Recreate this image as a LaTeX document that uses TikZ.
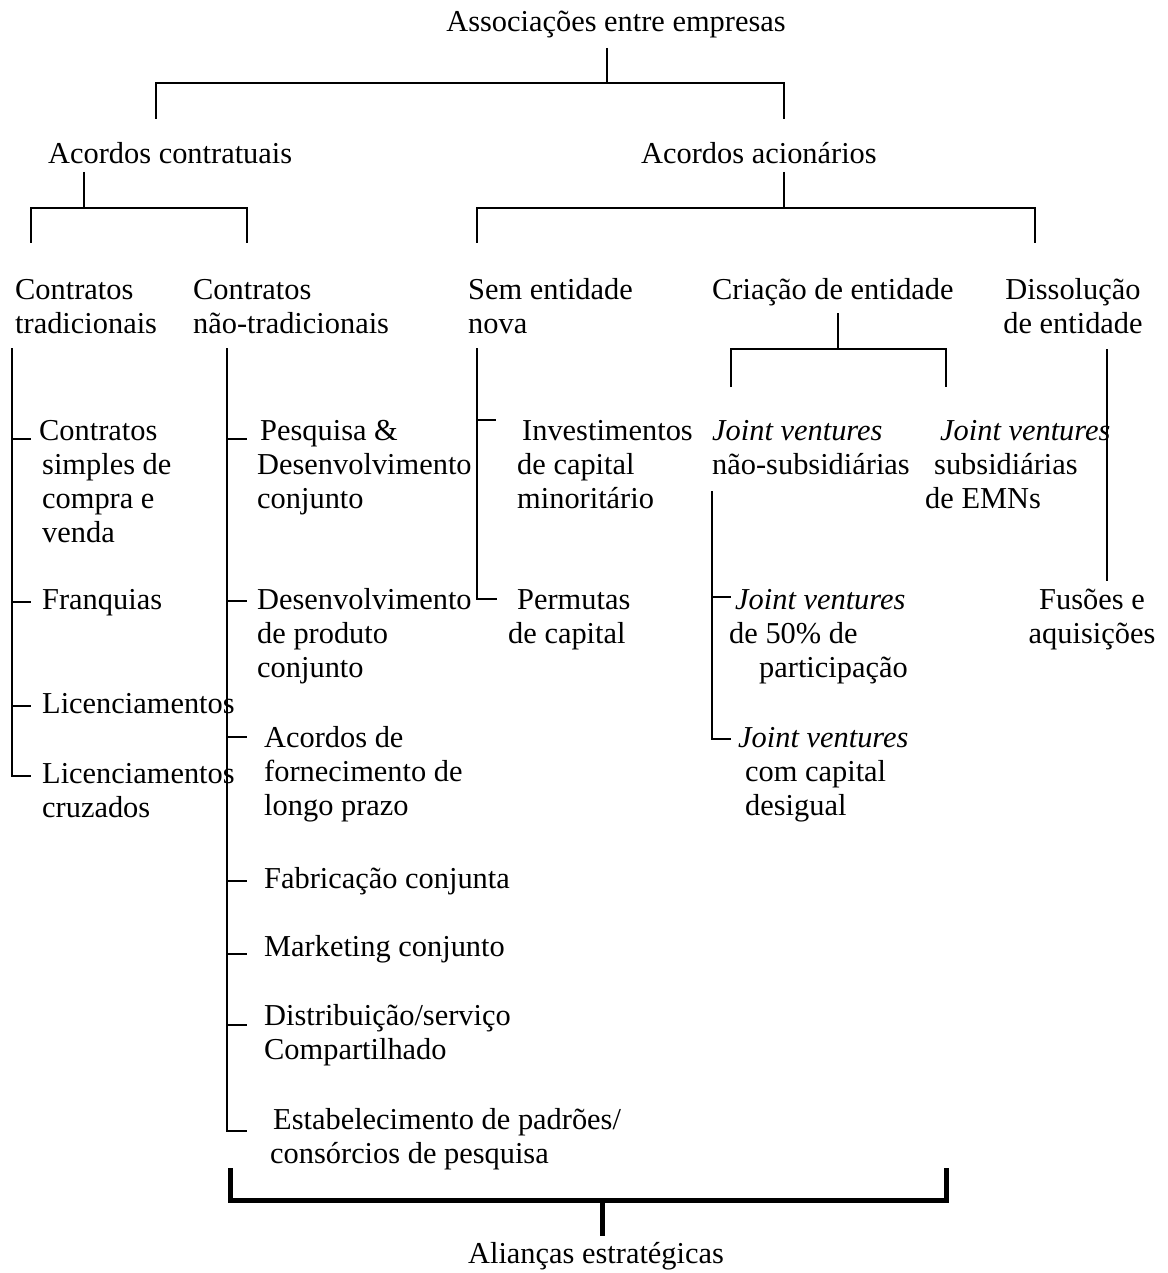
\documentclass[tikz,border=0pt]{standalone}
\usepackage{fontspec}
\setmainfont{Liberation Serif}
% stacked lines with a fixed 34pt line pitch; baseline = first line
\newcommand{\stackl}[1]{\begin{tabular}[t]{@{}l@{}}#1\end{tabular}}
\newcommand{\stackc}[1]{\begin{tabular}[t]{@{}c@{}}#1\end{tabular}}
\begin{document}
\begin{tikzpicture}[x=1pt,y=-1pt,
  every node/.style={inner sep=0pt,font=\fontsize{30.4}{34}\selectfont},
  lbl/.style={anchor=base west},
  lblc/.style={anchor=base},
  link/.style={line width=1.6pt,line join=miter},
  bracket/.style={line width=5pt,line join=miter}]
\fill[white] (0,0) rectangle (1167,1273);
\useasboundingbox (0,0) rectangle (1167,1273);

% ---------- labels ----------
\node[lblc] (root) at (616,32) {Associações entre empresas};
\node[lbl] (contr) at (48,164) {Acordos contratuais};
\node[lbl] (acion) at (641,164) {Acordos acionários};

\node[lbl] (trad) at (15,299) {\stackl{Contratos\\tradicionais}};
\node[lbl] (ntrad) at (193,299) {\stackl{Contratos\\não-tradicionais}};
\node[lbl] (sem) at (468,299) {\stackl{Sem entidade\\nova}};
\node[lbl] (cria) at (712,299) {Criação de entidade};
\node[lblc] (diss) at (1073,299) {\stackc{Dissolução\\de entidade}};

% column: contratos tradicionais
\node[lbl] (simples) at (39,440) {\stackl{Contratos\\\hspace*{3pt}simples de\\\hspace*{3pt}compra e\\\hspace*{3pt}venda}};
\node[lbl] (franq) at (42,609) {Franquias};
\node[lbl] (lic) at (42,713) {Licenciamentos};
\node[lbl] (licc) at (42,783) {\stackl{Licenciamentos\\cruzados}};

% column: contratos nao-tradicionais
\node[lbl] (ped) at (257,440) {\stackl{\hspace*{3pt}Pesquisa \&\\Desenvolvimento\\conjunto}};
\node[lbl] (dprod) at (257,609) {\stackl{Desenvolvimento\\de produto\\conjunto}};
\node[lbl] (forn) at (264,747) {\stackl{Acordos de\\fornecimento de\\longo prazo}};
\node[lbl] (fabr) at (264,888) {Fabricação conjunta};
\node[lbl] (mark) at (264,956) {Marketing conjunto};
\node[lbl] (dist) at (264,1025) {\stackl{Distribuição/serviço\\Compartilhado}};
\node[lbl] (estab) at (270,1129) {\stackl{\hspace*{3pt}Estabelecimento de padrões/\\consórcios de pesquisa}};

% column: sem entidade nova
\node[lbl] (invest) at (517,440) {\stackl{\hspace*{5pt}Investimentos\\de capital\\minoritário}};
\node[lbl] (perm) at (508,609) {\stackl{\hspace*{9pt}Permutas\\de capital}};

% column: criacao de entidade
\node[lbl] (jvns) at (712,440) {\stackl{\textit{Joint ventures}\\não-subsidiárias}};
\node[lbl] (jvsub) at (925,440) {\stackl{\hspace*{15pt}\textit{Joint ventures}\\\hspace*{9pt}subsidiárias\\de EMNs}};
\node[lbl] (jv50) at (729,609) {\stackl{\hspace*{6pt}\textit{Joint ventures}\\de 50\% de\\\hspace*{30pt}participação}};
\node[lbl] (jvdes) at (738,747) {\stackl{\textit{Joint ventures}\\\hspace*{7pt}com capital\\\hspace*{7pt}desigual}};

% column: dissolucao de entidade
\node[lblc] (fus) at (1092,609) {\stackc{Fusões e\\aquisições}};

\node[lblc] (alian) at (596,1263) {Alianças estratégicas};

% ---------- junction points ----------
\coordinate (r0) at (607,48);   \coordinate (r1) at (607,83);
\coordinate (rl) at (156,83);   \coordinate (rr) at (784,83);
\coordinate (rlb) at (156,119); \coordinate (rrb) at (784,119);

\coordinate (c0) at (84,172);   \coordinate (c1) at (84,208);
\coordinate (cl) at (31,208);   \coordinate (cr) at (247,208);
\coordinate (clb) at (31,243);  \coordinate (crb) at (247,243);

\coordinate (a0) at (784,172);  \coordinate (a1) at (784,208);
\coordinate (al) at (477,208);  \coordinate (ar) at (1035,208);
\coordinate (alb) at (477,243); \coordinate (arb) at (1035,243);

\coordinate (e0) at (838,313);  \coordinate (e1) at (838,349);
\coordinate (el) at (731,349);  \coordinate (er) at (946,349);
\coordinate (elb) at (731,387); \coordinate (erb) at (946,387);

\coordinate (d0) at (1107,349); \coordinate (d1) at (1107,581);

% ---------- tree connectors ----------
\draw[link] (r0) -- (r1);
\draw[link] (rlb) -- (rl) -- (rr) -- (rrb);
\draw[link] (c0) -- (c1);
\draw[link] (clb) -- (cl) -- (cr) -- (crb);
\draw[link] (a0) -- (a1);
\draw[link] (alb) -- (al) -- (ar) -- (arb);
\draw[link] (e0) -- (e1);
\draw[link] (elb) -- (el) -- (er) -- (erb);
\draw[link] (d0) -- (d1);

% column spines with their ticks
\draw[link] (12,348) -- (12,776) -- (31,776);
\foreach \y in {439,602,706} \draw[link] (12,\y) -- (31,\y);

\draw[link] (227,348) -- (227,1131) -- (247,1131);
\foreach \y in {439,601,737,881,954,1025} \draw[link] (227,\y) -- (247,\y);

\draw[link] (477,348) -- (477,599) -- (497,599);
\draw[link] (477,420) -- (496,420);

\draw[link] (712,491) -- (712,739) -- (731,739);
\draw[link] (712,597) -- (731,597);

% strategic alliances bracket
\coordinate (s0) at (230,1168); \coordinate (s1) at (230,1200);
\coordinate (s2) at (946,1200); \coordinate (s3) at (946,1168);
\coordinate (sm) at (602,1200); \coordinate (sb) at (602,1236);
\draw[bracket] (s0) -- (s1) -- (s2) -- (s3);
\draw[bracket] (sm) -- (sb);
\end{tikzpicture}
\end{document}
